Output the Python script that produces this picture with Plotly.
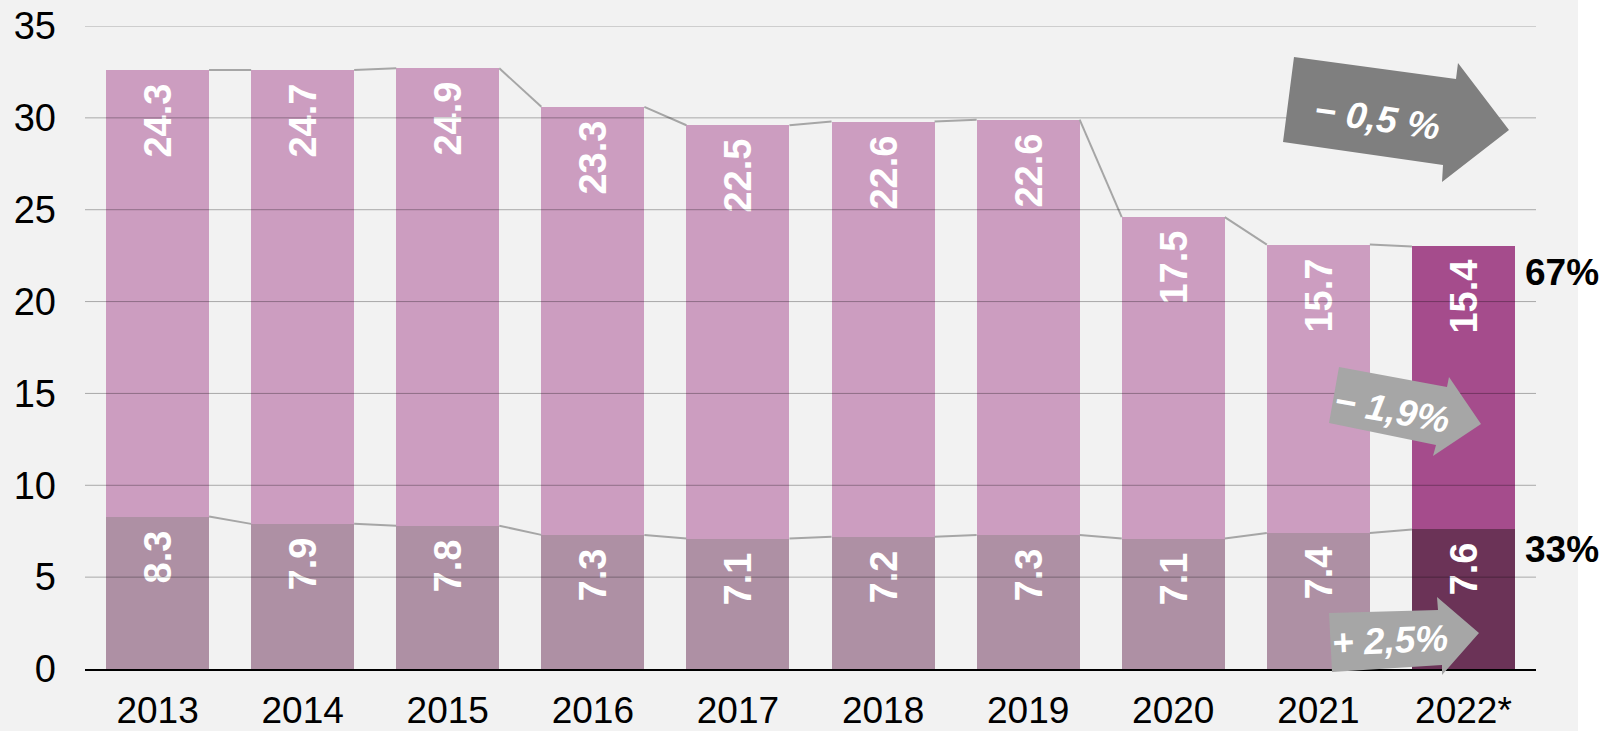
import plotly.graph_objects as go

years = ["2013", "2014", "2015", "2016", "2017", "2018", "2019", "2020", "2021", "2022*"]
bottom_vals = [8.3, 7.9, 7.8, 7.3, 7.1, 7.2, 7.3, 7.1, 7.4, 7.6]
top_vals = [24.3, 24.7, 24.9, 23.3, 22.5, 22.6, 22.6, 17.5, 15.7, 15.4]
y_ticks = [0, 5, 10, 15, 20, 25, 30, 35]
share_labels = ["67%", "33%"]
arrow_labels = ["\u2212 0,5 %", "\u2212 1,9%", "+ 2,5%"]

FONT = "Liberation Sans, Arial, sans-serif"
W, H = 1606, 731
PL, PR, PT, PB = 85, 1536, 26, 669
BW = 0.71

top_colors = ["#cc9dc0"] * 9 + ["#a54c8c"]
bot_colors = ["#ae90a4"] * 9 + ["#6b3357"]

xs = list(range(len(years)))
totals = [b + t for b, t in zip(bottom_vals, top_vals)]

def px(x):
    return (x - PL) / (PR - PL)

def py(y):
    return (PB - y) / (PB - PT)

pad = "\u00a0"
fig = go.Figure()
fig.add_trace(go.Bar(
    x=xs, y=bottom_vals, width=BW, marker=dict(color=bot_colors, line=dict(width=0)),
    text=[f"{v:.1f}{pad}" for v in bottom_vals], textposition="inside", textangle=-90,
    insidetextanchor="end", textfont=dict(family=FONT, size=38, color="white", weight="bold"),
    hoverinfo="skip", showlegend=False))
fig.add_trace(go.Bar(
    x=xs, y=top_vals, width=BW, marker=dict(color=top_colors, line=dict(width=0)),
    text=[f"{v:.1f}{pad}" for v in top_vals], textposition="inside", textangle=-90,
    insidetextanchor="end", textfont=dict(family=FONT, size=38, color="white", weight="bold"),
    hoverinfo="skip", showlegend=False))

def connector(vals):
    lx, ly = [], []
    for i in range(len(vals) - 1):
        lx += [xs[i] + BW / 2, xs[i + 1] - BW / 2, None]
        ly += [vals[i], vals[i + 1], None]
    return lx, ly

for series in (totals, bottom_vals):
    lx, ly = connector(series)
    fig.add_trace(go.Scatter(x=lx, y=ly, mode="lines", line=dict(color="#a6a6a6", width=2),
                             hoverinfo="skip", showlegend=False))

shapes = []
# background panel
shapes.append(dict(type="rect", xref="paper", yref="paper", x0=px(0), x1=px(1578), y0=py(H), y1=py(0),
                   fillcolor="#f2f2f2", line=dict(width=0), layer="below"))
# gridlines above bars
for t in y_ticks[1:]:
    shapes.append(dict(type="line", xref="paper", yref="y", x0=0, x1=1, y0=t, y1=t,
                       line=dict(color="rgba(0,0,0,0.3)", width=1), layer="above"))

def arrow(pts, color):
    d = "M " + " L ".join(f"{px(x):.5f},{py(y):.5f}" for x, y in pts) + " Z"
    return dict(type="path", xref="paper", yref="paper", path=d, fillcolor=color,
                line=dict(width=0), layer="above")

shapes.append(arrow([(1294, 57), (1456, 79), (1458, 63), (1509, 130), (1442, 182), (1443, 165), (1283, 142)], "#7f7f7f"))
shapes.append(arrow([(1339, 367), (1447, 387), (1449, 377), (1481, 424), (1433, 456), (1436, 445), (1329, 423)], "#a6a6a6"))
shapes.append(arrow([(1329, 613), (1438, 610), (1437, 597), (1479, 633), (1442, 675), (1442, 665), (1332, 672)], "#a6a6a6"))

annotations = []
for txt, yv in zip(share_labels, [21.56, 6.48]):
    annotations.append(dict(x=xs[-1] + BW / 2, y=yv, xref="x", yref="y", xanchor="left", yanchor="middle",
                            xshift=8, text=txt, showarrow=False,
                            font=dict(family=FONT, size=37, color="black", weight="bold")))
for txt, (cx, cy), ang in zip(arrow_labels, [(1377, 118), (1392, 410), (1390, 640)], [8, 10, -2.5]):
    annotations.append(dict(x=px(cx), y=py(cy), xref="paper", yref="paper", xanchor="center", yanchor="middle",
                            text=txt, showarrow=False, textangle=ang,
                            font=dict(family=FONT, size=37, color="white", weight="bold", style="italic")))

fig.update_layout(
    width=W, height=H, barmode="stack", bargap=0,
    margin=dict(l=PL, r=W - PR, t=PT, b=H - PB, pad=0, autoexpand=False),
    paper_bgcolor="white", plot_bgcolor="rgba(0,0,0,0)",
    shapes=shapes, annotations=annotations,
    xaxis=dict(range=[-0.5, len(years) - 0.5], tickvals=xs, ticktext=years, showgrid=False, zeroline=False,
               showline=True, linecolor="black", linewidth=2, layer="above traces", automargin=False,
               tickfont=dict(family=FONT, size=37, color="black"), ticks="", ticklabelstandoff=8),
    yaxis=dict(range=[0, 35], tickvals=y_ticks, showgrid=False, zeroline=False, showline=False,
               automargin=False,
               tickfont=dict(family=FONT, size=38, color="black"), ticks="", ticklabelstandoff=28),
)

fig.write_html("out.html")
